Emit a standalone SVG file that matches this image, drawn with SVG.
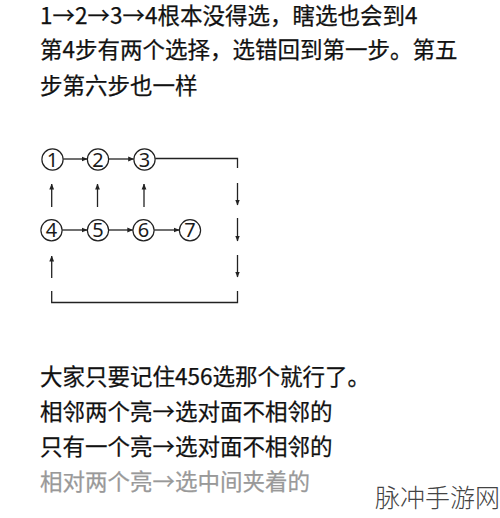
<svg xmlns="http://www.w3.org/2000/svg" width="500" height="518" viewBox="0 0 500 518">
<defs>
<marker id="ah" viewBox="0 0 6 6" refX="5.5" refY="3" markerWidth="6" markerHeight="6" markerUnits="userSpaceOnUse" orient="auto">
<path d="M0,0.6 L6,3 L0,5.4 Z" fill="#222"/>
</marker>
</defs>
<style>
.t{font-family:"Noto Sans CJK SC","Noto Sans",sans-serif;font-size:22.5px;fill:#111;font-weight:400;stroke:#111;stroke-width:0.25}
.g{fill:#999;stroke:#999}
.n circle{fill:none;stroke:#222;stroke-width:1.2}
.n text{font-family:"Noto Sans","Noto Sans CJK SC",sans-serif;font-size:20px;fill:#1a1a1a;text-anchor:middle}
.c{stroke:#222;stroke-width:1.3;fill:none}
.a{marker-end:url(#ah)}
.wm{font-family:"Noto Sans CJK SC",sans-serif;font-size:25px;fill:#444;font-weight:300}
</style>
<rect width="500" height="518" fill="#fff"/>
<g id="intro">
<text class="t" x="40" y="24">1→2→3→4根本没得选，瞎选也会到4</text>
<text class="t" x="40" y="58">第4步有两个选择，选错回到第一步。第五</text>
<text class="t" x="40" y="94">步第六步也一样</text>
</g>
<g id="n1" class="n"><circle cx="52.5" cy="159.5" r="10.6"/><text x="52.5" y="166.6">1</text></g>
<g id="n2" class="n"><circle cx="98" cy="159.5" r="10.6"/><text x="98" y="166.6">2</text></g>
<g id="n3" class="n"><circle cx="144.5" cy="159.5" r="10.6"/><text x="144.5" y="166.6">3</text></g>
<g id="n4" class="n"><circle cx="51.5" cy="230.3" r="10.6"/><text x="51.5" y="237.4">4</text></g>
<g id="n5" class="n"><circle cx="98" cy="230.3" r="10.6"/><text x="98" y="237.4">5</text></g>
<g id="n6" class="n"><circle cx="143.5" cy="230.3" r="10.6"/><text x="143.5" y="237.4">6</text></g>
<g id="n7" class="n"><circle cx="190" cy="230.3" r="10.6"/><text x="190" y="237.4">7</text></g>
<g id="connectors">
<line class="c a" x1="63.2" y1="159" x2="87.2" y2="159"/>
<line class="c a" x1="108.7" y1="159" x2="133.7" y2="159"/>
<path class="c" d="M155.2,158.5 H237.5 V168" stroke-width="1.5"/>
<line class="c a" x1="51.7" y1="207" x2="51.7" y2="184"/>
<line class="c a" x1="97.5" y1="207" x2="97.5" y2="184"/>
<line class="c a" x1="144" y1="207" x2="144" y2="184"/>
<line class="c a" x1="237.5" y1="183" x2="237.5" y2="205"/>
<line class="c a" x1="62.2" y1="230" x2="87.2" y2="230"/>
<line class="c a" x1="108.7" y1="230" x2="132.8" y2="230"/>
<line class="c a" x1="154.2" y1="230" x2="179.3" y2="230"/>
<line class="c a" x1="237.5" y1="218" x2="237.5" y2="241"/>
<line class="c a" x1="51.7" y1="278" x2="51.7" y2="256"/>
<line class="c a" x1="237.5" y1="255" x2="237.5" y2="277"/>
<path class="c" d="M51.7,291 V302.5 H237.5 V291" stroke-width="1.8"/>
</g>
<g id="notes">
<text class="t" x="40" y="385">大家只要记住456选那个就行了。</text>
<text class="t" x="40" y="420">相邻两个亮→选对面不相邻的</text>
<text class="t" x="40" y="455">只有一个亮→选对面不相邻的</text>
<text class="t g" x="40" y="490">相对两个亮→选中间夹着的</text>
</g>
<text class="wm" x="375" y="507">脉冲手游网</text>
</svg>
